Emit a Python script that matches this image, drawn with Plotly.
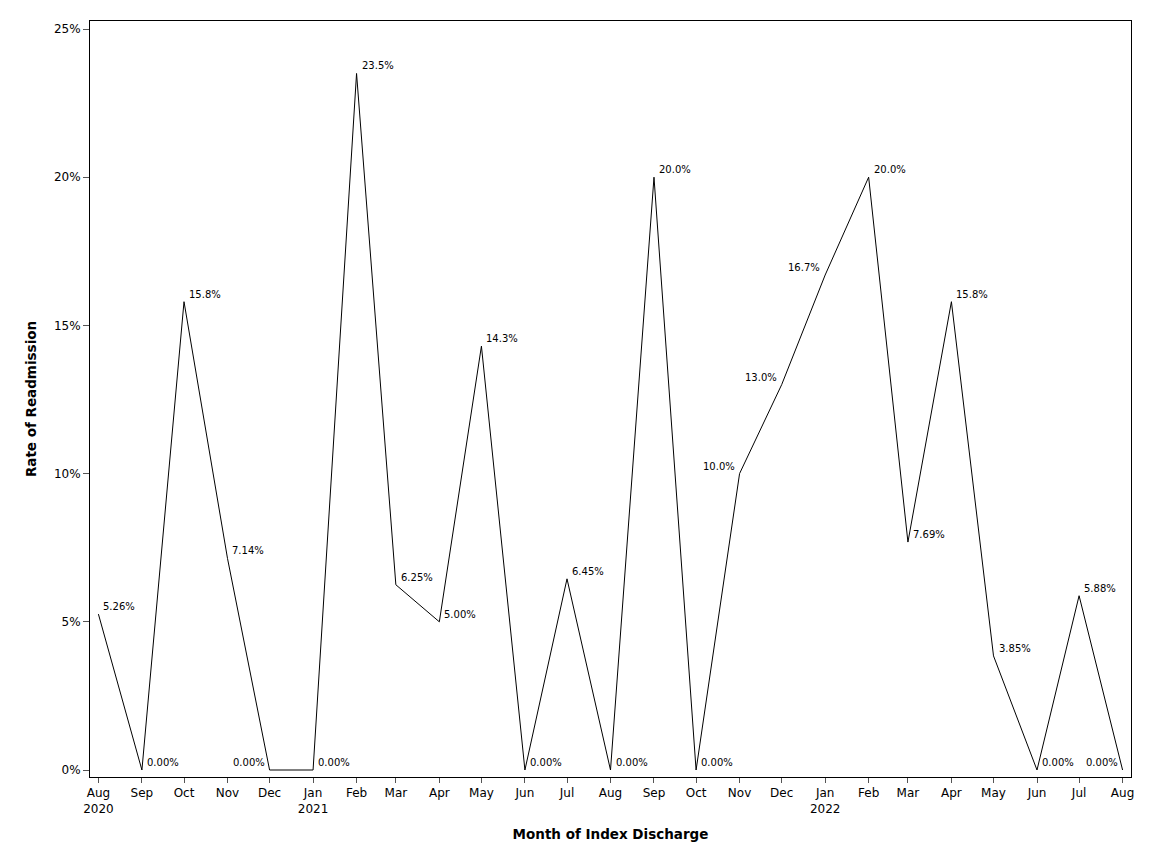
import plotly.graph_objects as go

months = [
    "2020-08-01", "2020-09-01", "2020-10-01", "2020-11-01", "2020-12-01",
    "2021-01-01", "2021-02-01", "2021-03-01", "2021-04-01", "2021-05-01",
    "2021-06-01", "2021-07-01", "2021-08-01", "2021-09-01", "2021-10-01",
    "2021-11-01", "2021-12-01", "2022-01-01", "2022-02-01", "2022-03-01",
    "2022-04-01", "2022-05-01", "2022-06-01", "2022-07-01", "2022-08-01",
]
tick_labels = [
    "Aug<br>2020", "Sep", "Oct", "Nov", "Dec",
    "Jan<br>2021", "Feb", "Mar", "Apr", "May",
    "Jun", "Jul", "Aug", "Sep", "Oct",
    "Nov", "Dec", "Jan<br>2022", "Feb", "Mar",
    "Apr", "May", "Jun", "Jul", "Aug",
]
rates = [
    5.26, 0.00, 15.8, 7.14, 0.00,
    0.00, 23.5, 6.25, 5.00, 14.3,
    0.00, 6.45, 0.00, 20.0, 0.00,
    10.0, 13.0, 16.7, 20.0, 7.69,
    15.8, 3.85, 0.00, 5.88, 0.00,
]
labels = [
    "5.26%", "0.00%", "15.8%", "7.14%", "0.00%",
    "0.00%", "23.5%", "6.25%", "5.00%", "14.3%",
    "0.00%", "6.45%", "0.00%", "20.0%", "0.00%",
    "10.0%", "13.0%", "16.7%", "20.0%", "7.69%",
    "15.8%", "3.85%", "0.00%", "5.88%", "0.00%",
]
left_labels = {"2020-12-01", "2021-11-01", "2021-12-01", "2022-01-01", "2022-08-01"}

fig = go.Figure(go.Scatter(
    x = months,
    y = rates,
    mode = "lines",
    line = dict(color = "black", width = 1),
    showlegend = False,
    hoverinfo = "skip",
))

# point labels, right of the point unless it's one of the left ones
for m, r, lab in zip(months, rates, labels):
    left = m in left_labels
    fig.add_annotation(
        x = m, y = r, text = lab,
        showarrow = False,
        xanchor = "right" if left else "left",
        yanchor = "bottom",
        xshift = -3 if left else 3,
        yshift = 0,
        font = dict(size = 10, color = "black"),
    )

fig.update_layout(
    width = 1152,
    height = 864,
    margin = dict(l = 82, r = 29, t = 13, b = 95),
    plot_bgcolor = "white",
    paper_bgcolor = "white",
    font = dict(family = "DejaVu Sans", color = "black", size = 12),
    xaxis = dict(
        title = dict(text = "<b>Month of Index Discharge</b>", font = dict(size = 13.5), standoff = 14),
        range = ["2020-07-26", "2022-08-07"],
        tickvals = months,
        ticktext = tick_labels,
        ticks = "outside",
        ticklen = 5,
        tickcolor = "#555555",
        showline = True,
        linecolor = "black",
        linewidth = 1,
        mirror = True,
        showgrid = False,
        zeroline = False,
    ),
    yaxis = dict(
        title = dict(text = "<b>Rate of Readmission</b>", font = dict(size = 13.5), standoff = 14),
        range = [-0.236, 25.27],
        dtick = 5,
        tick0 = 0,
        ticksuffix = "%",
        ticks = "outside",
        ticklen = 6,
        tickcolor = "#555555",
        showline = True,
        linecolor = "black",
        linewidth = 1,
        mirror = True,
        showgrid = False,
        zeroline = False,
    ),
)

fig.write_html("out.html")
